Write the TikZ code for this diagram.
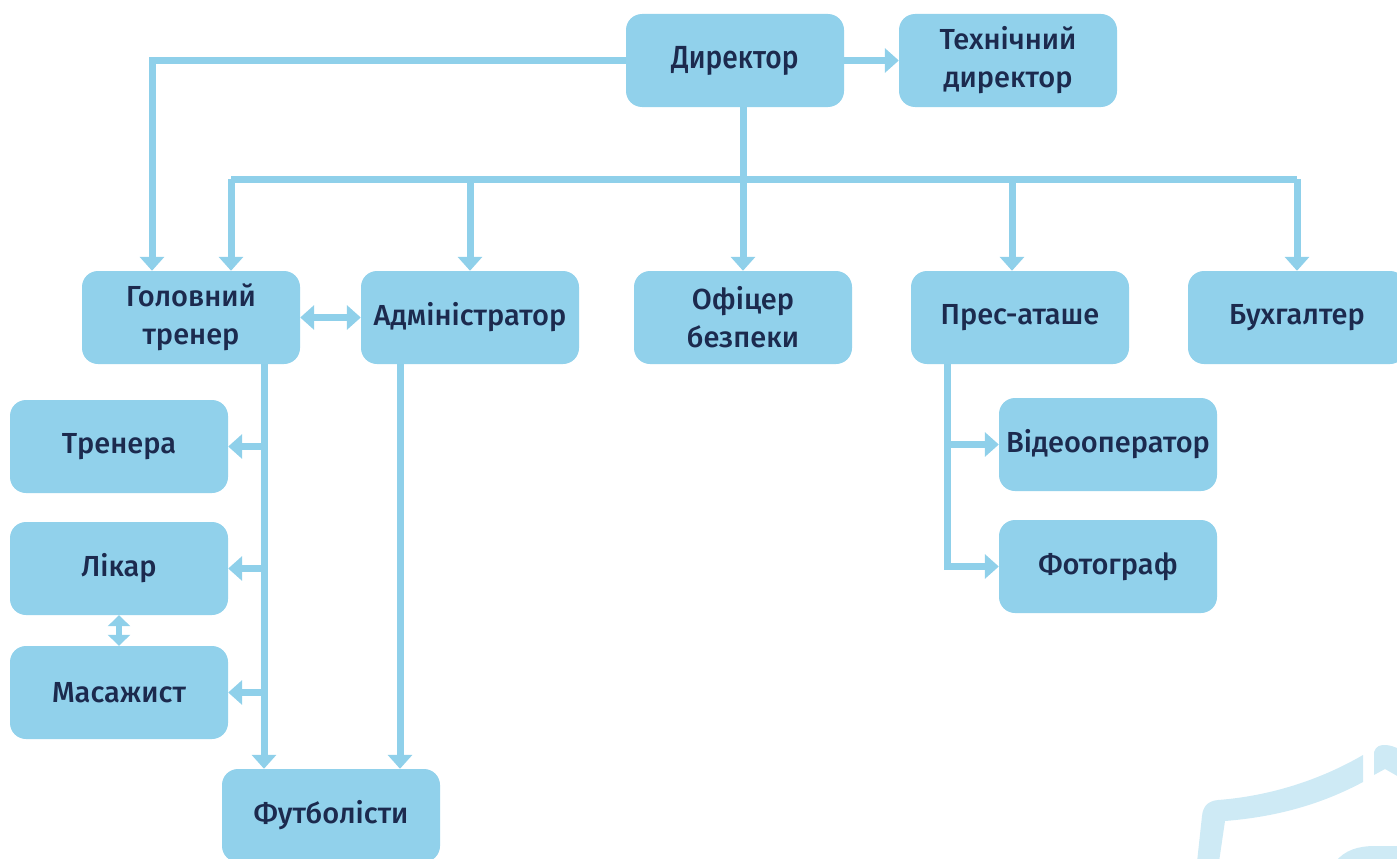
\documentclass[tikz,border=0pt]{standalone}
\usepackage{fontspec}
\setmainfont{Fira Sans}[UprightFont=* Medium]
\usepackage{tikz}
\usetikzlibrary{arrows.meta}
\definecolor{boxblue}{HTML}{91D1EB}
\definecolor{linkblue}{HTML}{8FD0EA}
\definecolor{navy}{HTML}{1C2A4E}
\definecolor{wmark}{HTML}{CEEAF5}
\tikzset{
  box/.style={fill=boxblue, rounded corners=16pt, inner sep=0pt, minimum width=218pt,
    minimum height=93pt, align=center, text=navy, font=\fontsize{29}{38}\selectfont},
  link/.style={draw=linkblue, line width=7pt, -{Triangle[width=24pt,length=14pt]}},
  biglink/.style={draw=linkblue, line width=7pt, {Triangle[width=24pt,length=14pt]}-{Triangle[width=24pt,length=14pt]}},
  smalllink/.style={draw=linkblue, line width=6pt, {Triangle[width=22pt,length=11pt]}-{Triangle[width=22pt,length=11pt]}},
  bar/.style={draw=linkblue, line width=7pt}
}

\begin{document}
\begin{tikzpicture}[x=1pt,y=-1pt]
\useasboundingbox (0,0) rectangle (1397,859);

\fill[wmark] (1197,862) -- (1202,816) .. controls (1203,806) and (1208,801) .. (1218,800)
  .. controls (1270,796) and (1320,780) .. (1363,755) -- (1363,782)
  .. controls (1320,805) and (1275,817) .. (1225,821) -- (1219,862) -- cycle;
\fill[wmark] (1374,775) -- (1374,752) .. controls (1376,746) and (1380,745) .. (1385,745)
  .. controls (1390,745) and (1395,747) .. (1399,749) -- (1399,777) -- (1385,769) -- cycle;
\fill[wmark] (1335,862) .. controls (1345,850) and (1358,846) .. (1375,846) -- (1399,846) -- (1399,862) -- cycle;

\node (dir) [box, font=\fontsize{32}{38}\selectfont\addfontfeature{FakeStretch=0.88}] at (735,60.5) {Директор};
\node (tech) [box] at (1008,60.5) {Технічний\\директор};
\node (gt) [box] at (191,317.5) {Головний\\тренер};
\node (adm) [box] at (470,317.5) {Адміністратор};
\node (offic) [box] at (743,317.5) {Офіцер\\безпеки};
\node (pres) [box] at (1020,317.5) {Прес-аташе};
\node (buh) [box] at (1297,317.5) {Бухгалтер};
\node (trn) [box] at (119,446.5) {Тренера};
\node (lik) [box] at (119,568.5) {Лікар};
\node (mas) [box] at (119,692.5) {Масажист};
\node (fut) [box] at (331,815.5) {Футболісти};
\node (vid) [box] at (1108,444.5) {Відеооператор};
\node (foto) [box] at (1108,566.5) {Фотограф};

\coordinate (bus) at (0,179);
\coordinate (gtleft) at ([xshift=-39pt]gt.north);
\coordinate (gtright) at ([xshift=40pt]gt.north);
\coordinate (gtdown) at ([xshift=73pt]gt.south);
\coordinate (admdown) at ([xshift=-70pt]adm.south);
\coordinate (prdown) at ([xshift=-73pt]pres.south);

\draw[link] (dir.west) -| (gtleft);
\draw[link] (dir.east) -- (tech.west);
\draw[link] (dir.south -| offic.north) -- (offic.north);
\draw[bar] (gtright |- bus) -- (buh.north |- bus);
\draw[link] (gtright |- bus) -- (gtright);
\draw[link] (adm.north |- bus) -- (adm.north);
\draw[link] ([xshift=-8pt]pres.north |- bus) -- ([xshift=-8pt]pres.north);
\draw[link] (buh.north |- bus) -- (buh.north);
\draw[biglink] (gt.east) -- (adm.west);
\draw[link] (gtdown) -- (gtdown |- fut.north);
\draw[link] (gtdown |- trn) -- (trn.east);
\draw[link] (gtdown |- lik) -- (lik.east);
\draw[link] (gtdown |- mas) -- (mas.east);
\draw[smalllink] (lik.south) -- (mas.north);
\draw[link] (admdown) -- (admdown |- fut.north);
\draw[link] (prdown) |- (foto.west);
\draw[link] (prdown |- vid) -- (vid.west);
\end{tikzpicture}
\end{document}
